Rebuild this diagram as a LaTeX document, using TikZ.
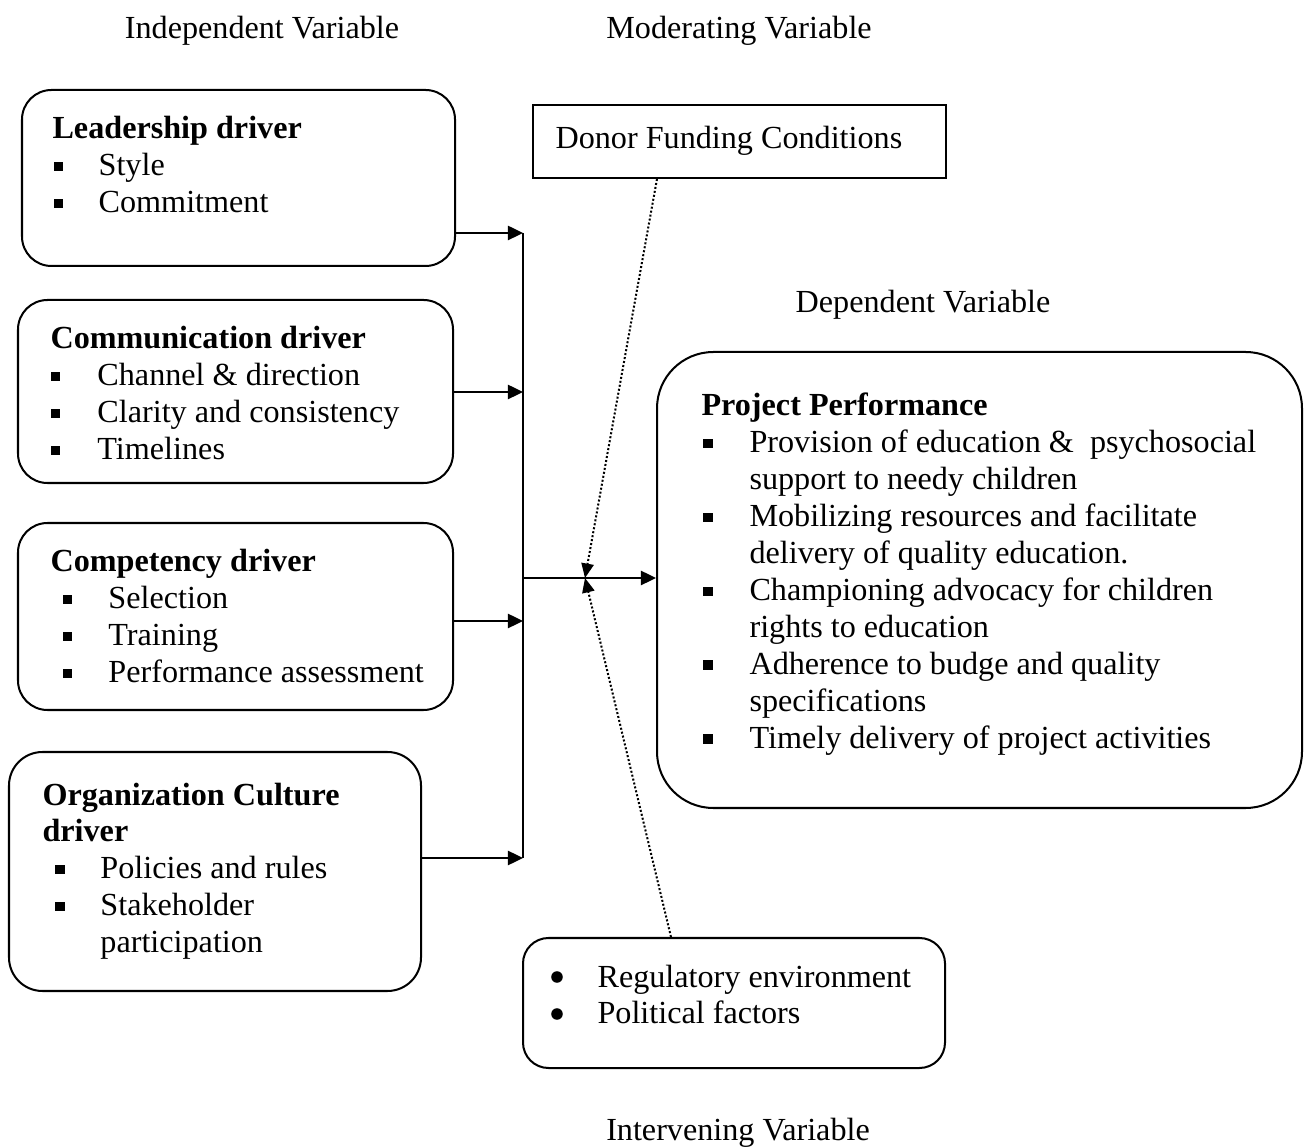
\documentclass[tikz,border=0pt]{standalone}
\usepackage{fontspec}
\setmainfont{Liberation Serif}
\usepackage{tikz}
\usetikzlibrary{arrows.meta, calc, fit}

\newcommand{\sqitem}[2]{\hspace*{#1}\makebox[#2][l]{\rule[2pt]{3.4pt}{3.4pt}}}

\begin{document}
\begin{tikzpicture}[x=0.373pt, y=-0.373pt, >=Triangle,
    drvbox/.style={draw, line width=0.75pt, rounded corners=11pt, inner sep=0pt},
    listtext/.style={anchor=base west, inner sep=0pt, font=\fontsize{12}{13.8}\selectfont},
    varlabel/.style={anchor=base, inner sep=0pt, font=\fontsize{12}{13.8}\selectfont},
    rdot/.style={circle, fill, inner sep=0pt, minimum size=4.3pt},
    flow/.style={->, line width=1pt, arrows={-Triangle[length=5.6pt, width=5.2pt]}},
    modline/.style={line width=0.75pt, dash pattern=on 0.75pt off 0.75pt, arrows={-Triangle[length=5.4pt, width=4.6pt]}}]
  \useasboundingbox (0,0) rectangle (1307,1147);

  % variable labels
  \node[varlabel] (indep) at (262,39) {Independent Variable};
  \node[varlabel] (moder) at (739,39) {Moderating Variable};
  \node[varlabel] (depen) at (923,313) {Dependent Variable};
  \node[varlabel] (inter) at (738,1140) {Intervening Variable};

  % independent drivers
  \node[drvbox, fit={(22,90) (455,266)}] (lead) {};
  \node[listtext] (leadtxt) at (52,139) {\begin{tabular}[t]{@{}l@{}}
    \textbf{Leadership driver}\\
    \sqitem{0.4pt}{16.8pt}Style\\
    \sqitem{0.4pt}{16.8pt}Commitment
  \end{tabular}};

  \node[drvbox, fit={(18,300) (453,483)}] (comm) {};
  \node[listtext] (commtxt) at (50,349) {\begin{tabular}[t]{@{}l@{}}
    \textbf{Communication driver}\\
    \sqitem{0pt}{17.5pt}Channel \& direction\\
    \sqitem{0pt}{17.5pt}Clarity and consistency\\
    \sqitem{0pt}{17.5pt}Timelines
  \end{tabular}};

  \node[drvbox, fit={(18,523) (453,710)}] (comp) {};
  \node[listtext] (comptxt) at (50,572) {\begin{tabular}[t]{@{}l@{}}
    \textbf{Competency driver}\\
    \sqitem{4.5pt}{17.1pt}Selection\\
    \sqitem{4.5pt}{17.1pt}Training\\
    \sqitem{4.5pt}{17.1pt}Performance assessment
  \end{tabular}};

  \node[drvbox, rounded corners=12.5pt, fit={(9,752) (421,991)}] (org) {};
  \node[listtext] (orgtxt) at (42,805) {\begin{tabular}[t]{@{}l@{}}
    \textbf{Organization Culture}\\
    \textbf{driver}\\
    \sqitem{4.8pt}{16.8pt}Policies and rules\\
    \sqitem{4.8pt}{16.8pt}Stakeholder\\
    \hspace*{21.6pt}participation
  \end{tabular}};

  % moderating and intervening
  \node[draw, line width=0.75pt, inner sep=0pt, fit={(533,105) (946,178)}] (donor) {};
  \node[listtext] (donortxt) at (555,149) {Donor Funding Conditions};

  \node[drvbox, rounded corners=9.5pt, fit={(523,938) (945,1068)}] (interv) {};
  \node[rdot] (dot1) at (557,977) {};
  \node[rdot] (dot2) at (557,1014) {};
  \node[listtext] (intervtxt) at (597,987) {\begin{tabular}[t]{@{}l@{}}
    Regulatory environment\\
    Political factors
  \end{tabular}};

  % dependent
  \node[drvbox, rounded corners=21pt, fit={(657,352) (1302,808)}] (proj) {};
  \node[listtext] (projtxt) at (701,416) {\begin{tabular}[t]{@{}l@{}}
    \textbf{Project Performance}\\
    \sqitem{0.7pt}{17.2pt}Provision of education \&\ \ psychosocial\\
    \hspace*{17.9pt}support to needy children\\
    \sqitem{0.7pt}{17.2pt}Mobilizing resources and facilitate\\
    \hspace*{17.9pt}delivery of quality education.\\
    \sqitem{0.7pt}{17.2pt}Championing advocacy for children\\
    \hspace*{17.9pt}rights to education\\
    \sqitem{0.7pt}{17.2pt}Adherence to budge and quality\\
    \hspace*{17.9pt}specifications\\
    \sqitem{0.7pt}{17.2pt}Timely delivery of project activities
  \end{tabular}};

  % connectors
  \coordinate (j1) at (523,233);
  \coordinate (j2) at (523,392);
  \coordinate (j3) at (523,621);
  \coordinate (j4) at (523,858);
  \coordinate (jm) at (523,578);
  \coordinate (mt) at (585,578);

  \draw[line width=0.8pt] (j1) -- (j4);
  \draw[flow] (lead.east |- j1) -- (j1);
  \draw[flow] (comm.east |- j2) -- (j2);
  \draw[flow] (comp.east |- j3) -- (j3);
  \draw[flow] (org.east |- j4) -- (j4);
  \draw[flow] (jm) -- (proj.west |- jm);

  \draw[modline] ($(donor.south west)+(125,0)$) -- (mt);
  \draw[modline] ($(interv.north west)+(149,0)$) -- (mt);
\end{tikzpicture}
\end{document}
